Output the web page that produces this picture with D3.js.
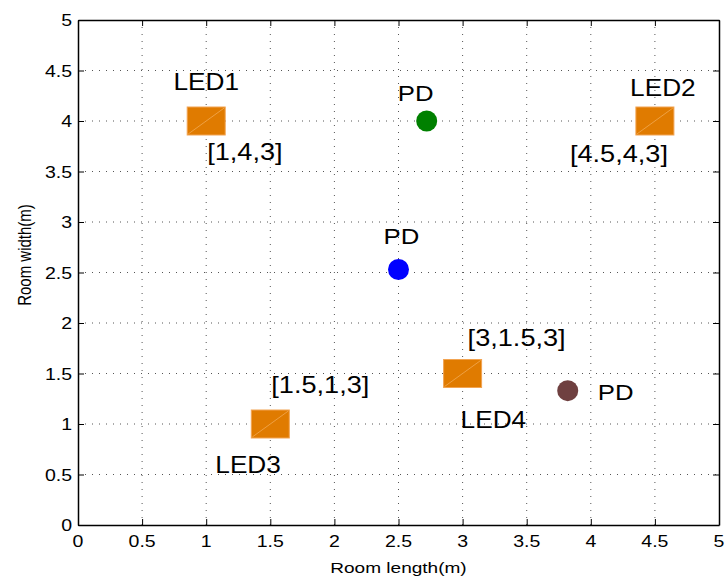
<!DOCTYPE html>
<html>
<head>
<meta charset="utf-8">
<script src="https://cdn.jsdelivr.net/npm/d3@7"></script>
<style>
  html, body { margin: 0; padding: 0; background: #fff; }
  svg { display: block; font-family: "Liberation Sans", Arial, Helvetica, sans-serif; }
</style>
</head>
<body>
<svg id="chart" width="727" height="579"></svg>
<script>
// LED transmitters (x, y in metres) and their coordinate tags
const ledNames = ["LED1", "LED2", "LED3", "LED4"];
const ledX = [1, 4.5, 1.5, 3];
const ledY = [4, 4, 1, 1.5];
const ledTags = ["[1,4,3]", "[4.5,4,3]", "[1.5,1,3]", "[3,1.5,3]"];

// Photodetector positions
const pdNames = ["PD", "PD", "PD"];
const pdX = [2.72, 2.5, 3.82];
const pdY = [4.0, 2.53, 1.33];
const pdColors = ["#008000", "#0000ff", "#6f4040"];

// Axis ticks
const xTicks = [0, 0.5, 1, 1.5, 2, 2.5, 3, 3.5, 4, 4.5, 5];
const yTicks = [0, 0.5, 1, 1.5, 2, 2.5, 3, 3.5, 4, 4.5, 5];
const xTickLabels = ["0", "0.5", "1", "1.5", "2", "2.5", "3", "3.5", "4", "4.5", "5"];
const yTickLabels = ["0", "0.5", "1", "1.5", "2", "2.5", "3", "3.5", "4", "4.5", "5"];

const svg = d3.select("#chart");
const plot = { left: 78, right: 719, top: 20, bottom: 525 };

const x = d3.scaleLinear().domain([0, 5]).range([plot.left, plot.right]);
const y = d3.scaleLinear().domain([0, 5]).range([plot.bottom, plot.top]);

// Text in this figure is drawn a little wide; sx widens glyphs horizontally
function stretchedText(sel, px, py, str, size, anchor, sx) {
  return sel.append("text")
    .attr("transform", `translate(${px},${py}) scale(${sx},1)`)
    .attr("text-anchor", anchor)
    .attr("font-size", size)
    .attr("fill", "#000")
    .text(str);
}

// Dotted grid
const grid = svg.append("g");
grid.selectAll("line.v").data(xTicks.slice(1, -1)).join("line")
  .attr("x1", d => x(d)).attr("x2", d => x(d))
  .attr("y1", plot.top).attr("y2", plot.bottom)
  .attr("stroke", "#555").attr("stroke-width", 1).attr("stroke-dasharray", "1,6");
grid.selectAll("line.h").data(yTicks.slice(1, -1)).join("line")
  .attr("x1", plot.left).attr("x2", plot.right)
  .attr("y1", d => y(d)).attr("y2", d => y(d))
  .attr("stroke", "#555").attr("stroke-width", 1).attr("stroke-dasharray", "1,6");

// Axes with inward ticks on all four sides (boxed)
const tickLen = 6;
const axB = svg.append("g").attr("transform", `translate(0,${plot.bottom})`)
  .call(d3.axisBottom(x).tickValues(xTicks).tickSizeInner(-tickLen).tickSizeOuter(0).tickFormat(""));
const axT = svg.append("g").attr("transform", `translate(0,${plot.top})`)
  .call(d3.axisTop(x).tickValues(xTicks).tickSizeInner(-tickLen).tickSizeOuter(0).tickFormat(""));
const axL = svg.append("g").attr("transform", `translate(${plot.left},0)`)
  .call(d3.axisLeft(y).tickValues(yTicks).tickSizeInner(-tickLen).tickSizeOuter(0).tickFormat(""));
const axR = svg.append("g").attr("transform", `translate(${plot.right},0)`)
  .call(d3.axisRight(y).tickValues(yTicks).tickSizeInner(-tickLen).tickSizeOuter(0).tickFormat(""));
[axB, axT, axL, axR].forEach(a => {
  a.select(".domain").attr("stroke", "#000").attr("stroke-width", 1.5);
  a.selectAll(".tick line").attr("stroke", "#000").attr("stroke-width", 1);
});

// Tick labels
const tl = svg.append("g");
xTicks.forEach((v, i) => stretchedText(tl, x(v), plot.bottom + 22, xTickLabels[i], 16, "middle", 1.22));
yTicks.forEach((v, i) => stretchedText(tl, plot.left - 6, y(v) + 6, yTickLabels[i], 16, "end", 1.22));

// Axis titles
stretchedText(svg, (plot.left + plot.right) / 2, 573, "Room length(m)", 15, "middle", 1.27);
svg.append("text")
  .attr("transform", `translate(31,255) scale(1.25,1) rotate(-90)`)
  .attr("text-anchor", "middle")
  .attr("font-size", 15)
  .attr("fill", "#000")
  .text("Room width(m)");

// LED markers: orange rectangles with a faint diagonal
const ledW = 38, ledH = 28;
const leds = svg.append("g");
ledX.forEach((vx, i) => {
  const cx = x(vx), cy = y(ledY[i]);
  leds.append("rect")
    .attr("x", cx - ledW / 2).attr("y", cy - ledH / 2)
    .attr("width", ledW).attr("height", ledH)
    .attr("fill", "#e07b00").attr("stroke", "#f2a452").attr("stroke-width", 1);
  leds.append("line")
    .attr("x1", cx - ledW / 2 + 1).attr("y1", cy + ledH / 2 - 1)
    .attr("x2", cx + ledW / 2 - 1).attr("y2", cy - ledH / 2 + 1)
    .attr("stroke", "#f3b060").attr("stroke-width", 0.7);
});

// Photodetector markers
const pds = svg.append("g");
pdX.forEach((vx, i) => {
  pds.append("circle")
    .attr("cx", x(vx)).attr("cy", y(pdY[i])).attr("r", 10.5)
    .attr("fill", pdColors[i]);
});

// Annotation placement relative to each marker (pixels)
const ledNameOffset = [[0, -31, "middle"], [8, -25, "middle"], [-55, 49, "start"], [-2, 54, "start"]];
const ledTagOffset = [[1, 39, "start"], [-85, 41, "start"], [1, -31, "start"], [5, -28, "start"]];
const pdNameOffset = [[-11, -20, "middle"], [3, -25, "middle"], [30, 9, "start"]];

const ann = svg.append("g");
ledNames.forEach((n, i) => {
  const cx = x(ledX[i]), cy = y(ledY[i]);
  const o = ledNameOffset[i];
  stretchedText(ann, cx + o[0], cy + o[1], n, 23, o[2], 1.14);
  const t = ledTagOffset[i];
  stretchedText(ann, cx + t[0], cy + t[1], ledTags[i], 23, t[2], 1.18);
});
pdNames.forEach((n, i) => {
  const cx = x(pdX[i]), cy = y(pdY[i]);
  const o = pdNameOffset[i];
  stretchedText(ann, cx + o[0], cy + o[1], n, 23, o[2], 1.12);
});
</script>
</body>
</html>
